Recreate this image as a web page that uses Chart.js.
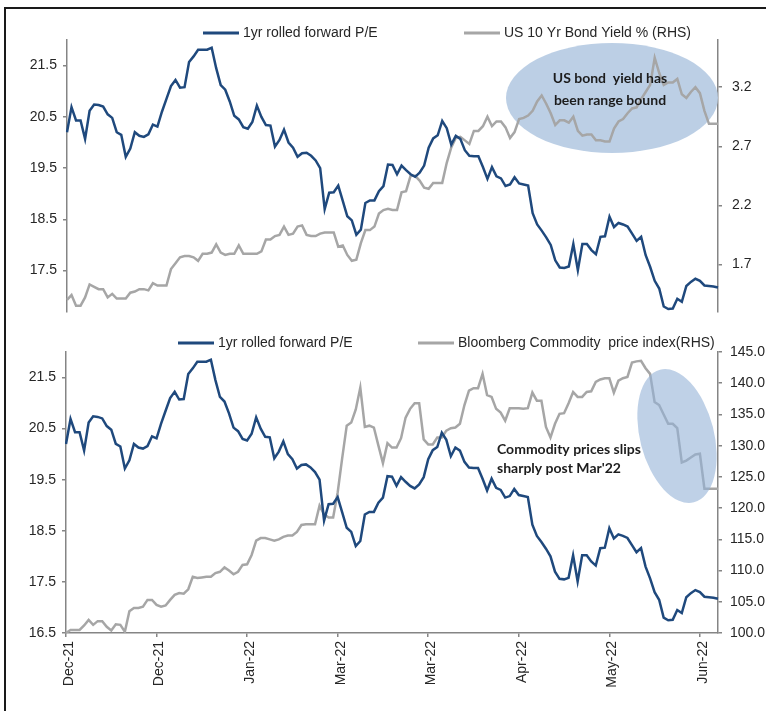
<!DOCTYPE html>
<html>
<head>
<meta charset="utf-8">
<script src="https://cdn.jsdelivr.net/npm/chart.js@4.4.1/dist/chart.umd.min.js"></script>
<style>
  html, body { margin: 0; padding: 0; background: #fff; overflow: hidden; }
  #wrap { position: relative; width: 766px; height: 711px; overflow: hidden; }
  #frame { position: absolute; left: 4px; top: 7px; width: 800px; height: 800px;
           border-left: 2px solid #1a1a1a; border-top: 2px solid #1a1a1a; }
  canvas { position: absolute; left: 0; }
  #topChart { top: 0; }
  #bottomChart { top: 320px; }
</style>
</head>
<body>
<div id="wrap">
  <div id="frame"></div>
  <canvas id="topChart" width="766" height="330"></canvas>
  <canvas id="bottomChart" width="766" height="391"></canvas>
</div>
<script>
// one value per trading day, Dec-21 to Jun-22
var peForward = [
  20.20, 20.69, 20.43, 20.43, 20.07, 20.62, 20.74, 20.73, 20.70, 20.55,
  20.48, 20.20, 20.15, 19.72, 19.88, 20.20, 20.13, 20.11, 20.16, 20.35,
  20.31, 20.60, 20.85, 21.10, 21.22, 21.07, 21.08, 21.57, 21.68, 21.81,
  21.81, 21.81, 21.85, 21.45, 21.12, 21.03, 20.80, 20.52, 20.45, 20.30,
  20.27, 20.40, 20.72, 20.50, 20.34, 20.33, 19.92, 20.05, 20.25, 20.00,
  19.90, 19.72, 19.79, 19.80, 19.74, 19.65, 19.50, 18.70, 19.02, 19.03,
  19.16, 18.86, 18.56, 18.48, 18.20, 18.30, 18.82, 18.87, 18.87, 19.05,
  19.15, 19.57, 19.56, 19.38, 19.55, 19.46, 19.38, 19.33, 19.41, 19.55,
  19.90, 20.08, 20.14, 20.42, 20.28, 19.96, 20.13, 20.07, 19.85, 19.74,
  19.73, 19.73, 19.52, 19.29, 19.52, 19.34, 19.30, 19.15, 19.18, 19.32,
  19.20, 19.18, 19.16, 18.62, 18.40, 18.28, 18.15, 18.00, 17.70, 17.56,
  17.55, 17.58, 18.02, 17.51, 18.02, 18.02, 17.90, 17.82, 18.16, 18.17,
  18.55, 18.35, 18.43, 18.40, 18.36, 18.22, 18.08, 18.16, 17.80, 17.57,
  17.30, 17.15, 16.80, 16.75, 16.76, 16.95, 16.89, 17.20, 17.28, 17.34,
  17.30, 17.21, 17.20, 17.19, 17.17
];

var bondYield = [
  1.40, 1.44, 1.35, 1.35, 1.42, 1.53, 1.51, 1.49, 1.49, 1.42,
  1.45, 1.41, 1.41, 1.41, 1.46, 1.47, 1.49, 1.49, 1.48, 1.54,
  1.52, 1.52, 1.52, 1.66, 1.71, 1.76, 1.77, 1.77, 1.76, 1.73,
  1.79, 1.79, 1.80, 1.87, 1.80, 1.78, 1.79, 1.79, 1.86, 1.79,
  1.79, 1.79, 1.79, 1.81, 1.91, 1.91, 1.94, 1.95, 2.02, 1.95,
  1.96, 2.02, 2.03, 1.95, 1.94, 1.94, 1.96, 1.97, 1.97, 1.97,
  1.85, 1.86, 1.78, 1.73, 1.74, 1.88, 1.99, 1.99, 2.02, 2.13,
  2.16, 2.17, 2.16, 2.16, 2.31, 2.32, 2.45, 2.45, 2.41, 2.35,
  2.34, 2.39, 2.39, 2.39, 2.56, 2.69, 2.77, 2.78, 2.75, 2.72,
  2.83, 2.83, 2.87, 2.95, 2.87, 2.91, 2.91, 2.86, 2.77, 2.82,
  2.93, 2.94, 2.96, 3.00, 3.08, 3.13, 3.06, 2.98, 2.88, 2.92,
  2.92, 2.90, 2.95, 2.83, 2.79, 2.80, 2.80, 2.75, 2.75, 2.74,
  2.74, 2.85, 2.91, 2.93, 2.98, 3.02, 3.03, 3.10, 3.16, 3.22,
  3.45, 3.32, 3.22, 3.24, 3.24, 3.27, 3.14, 3.11, 3.16, 3.20,
  3.15, 3.00, 2.89, 2.89, 2.89
];

var commodityIndex = [
  100.0, 100.5, 100.5, 100.5, 101.2, 102.1, 101.3, 101.9, 101.9, 101.0,
  100.4, 101.4, 101.3, 100.2, 103.5, 104.0, 104.0, 104.2, 105.3, 105.3,
  104.5, 104.2, 104.4, 105.3, 106.1, 106.4, 106.3, 107.0, 109.0, 108.8,
  108.9, 109.0, 109.0, 109.6, 109.8, 110.5, 110.0, 109.4, 109.8, 110.9,
  111.0, 112.5, 114.8, 115.2, 115.2, 115.0, 114.8, 115.0, 115.4, 115.6,
  115.6, 116.2, 117.3, 117.4, 117.4, 117.4, 120.4, 119.0, 118.5, 118.5,
  122.5, 128.0, 133.2, 133.7, 135.8, 139.3, 133.0, 133.2, 132.9, 130.0,
  127.2, 130.4, 129.7, 129.7, 131.2, 134.5, 135.9, 136.8, 136.8, 131.0,
  130.2, 130.2, 131.3, 131.3, 132.4, 132.8, 132.9, 133.5, 136.5, 138.8,
  139.2, 139.2, 141.5, 138.1, 137.8, 135.9, 135.3, 134.0, 136.0, 136.0,
  136.0, 135.9, 136.0, 138.5, 137.2, 137.2, 133.0, 131.3, 133.5, 135.1,
  135.2, 136.8, 138.6, 137.8, 137.8, 138.6, 138.7, 140.2, 140.6, 140.8,
  140.8, 138.5, 140.4, 140.8, 141.0, 143.3, 143.5, 143.6, 142.4, 141.5,
  137.0, 136.5, 135.0, 133.5, 133.5, 132.8, 127.3, 127.6, 128.1, 128.6,
  128.7, 123.1, 123.1, 123.1, 123.1
];

var xTickLabels = ['Dec-21', 'Dec-21', 'Jan-22', 'Mar-22', 'Mar-22', 'Apr-22', 'May-22', 'Jun-22'];
var tickStep = 20; // one label every 20 trading days

var peTicksTop = [17.5, 18.5, 19.5, 20.5, 21.5];
var peTicksBottom = [16.5, 17.5, 18.5, 19.5, 20.5, 21.5];
var bondTicks = [1.7, 2.2, 2.7, 3.2];
var commodityTicks = [100, 105, 110, 115, 120, 125, 130, 135, 140, 145];

var categories = peForward.map(function(v, i) { return i; });

var FONT = "'Liberation Sans', Arial, sans-serif";
var BLUE = '#1F497D';
var GREY = '#A6A6A6';
var AXIS = '#858585';
var TEXT = '#262626';

// legend drawn as line samples like the original
function lineLegend(xs, y) {
  return {
    id: 'lineLegend',
    afterDraw: function(chart) {
      var ctx = chart.ctx;
      ctx.save();
      ctx.font = '14px ' + FONT;
      ctx.textBaseline = 'middle';
      chart.data.datasets.forEach(function(ds, i) {
        ctx.strokeStyle = ds.borderColor;
        ctx.lineWidth = 3;
        ctx.beginPath();
        ctx.moveTo(xs[i], y);
        ctx.lineTo(xs[i] + 36, y);
        ctx.stroke();
        ctx.fillStyle = TEXT;
        ctx.fillText(ds.label, xs[i] + 40, y);
      });
      ctx.restore();
    }
  };
}

// shaded ellipse with a note
function callout(opt) {
  function ellipse(ctx) {
    ctx.save();
    ctx.fillStyle = opt.fill;
    ctx.beginPath();
    ctx.ellipse(opt.cx, opt.cy, opt.rx, opt.ry, opt.rot, 0, Math.PI * 2);
    ctx.fill();
    ctx.restore();
  }
  return {
    id: 'callout',
    beforeDatasetsDraw: function(chart) {
      if (!opt.overLines) ellipse(chart.ctx);
    },
    afterDatasetsDraw: function(chart) {
      var ctx = chart.ctx;
      if (opt.overLines) ellipse(ctx);
      ctx.save();
      ctx.font = 'bold 14px Lato, ' + FONT;
      ctx.fillStyle = '#1c1c1c';
      ctx.textAlign = opt.align;
      ctx.textBaseline = 'middle';
      opt.lines.forEach(function(t, i) {
        ctx.fillText(t, opt.tx, opt.ty + i * opt.lh);
      });
      ctx.restore();
    }
  };
}

function yAxis(pos, min, max, ticks, width, digits, pad) {
  return {
    position: pos,
    min: min,
    max: max,
    afterBuildTicks: function(s) {
      s.ticks = ticks.map(function(v) { return { value: v }; });
    },
    afterFit: function(s) { s.width = width; },
    grid: { drawOnChartArea: false, tickLength: 4, color: AXIS, lineWidth: 1.5 },
    border: { color: AXIS, width: 1.5 },
    ticks: {
      padding: pad,
      color: TEXT,
      font: { family: FONT, size: 14 },
      callback: function(v) { return Number(v).toFixed(digits); }
    }
  };
}

function lineSet(label, data, color, axis) {
  return {
    label: label,
    data: data,
    yAxisID: axis,
    borderColor: color,
    borderWidth: 2.5,
    pointRadius: 0,
    tension: 0,
    fill: false
  };
}

window.onload = function() {
  Chart.defaults.font.family = FONT;

  // top: P/E vs US 10 yr yield
  new Chart(document.getElementById('topChart').getContext('2d'), {
    type: 'line',
    data: {
      labels: categories,
      datasets: [
        lineSet('1yr rolled forward P/E', peForward, BLUE, 'y'),
        lineSet('US 10 Yr Bond Yield % (RHS)', bondYield, GREY, 'y1')
      ]
    },
    options: {
      responsive: false,
      animation: false,
      events: [],
      layout: { padding: { top: 40, bottom: 12, left: 0, right: 0 } },
      plugins: { legend: { display: false }, tooltip: { enabled: false } },
      scales: {
        x: { type: 'category', offset: false, display: false },
        y: yAxis('left', 16.7, 22.0, peTicksTop, 67, 1, 6),
        y1: yAxis('right', 1.3, 3.6, bondTicks, 48, 1, 10)
      }
    },
    plugins: [
      lineLegend([203, 464], 33),
      callout({
        cx: 612, cy: 98, rx: 106, ry: 55, rot: 0,
        fill: 'rgba(184, 204, 228, 0.95)', overLines: false,
        lines: ['US bond  yield has', 'been range bound'],
        tx: 610, ty: 78, lh: 22, align: 'center'
      })
    ]
  });

  // bottom: P/E vs Bloomberg commodity index
  new Chart(document.getElementById('bottomChart').getContext('2d'), {
    type: 'line',
    data: {
      labels: categories,
      datasets: [
        lineSet('1yr rolled forward P/E', peForward, BLUE, 'y'),
        lineSet('Bloomberg Commodity  price index(RHS)', commodityIndex, GREY, 'y1')
      ]
    },
    options: {
      responsive: false,
      animation: false,
      events: [],
      layout: { padding: { top: 32, bottom: 0, left: 0, right: 0 } },
      plugins: { legend: { display: false }, tooltip: { enabled: false } },
      scales: {
        x: {
          type: 'category',
          offset: false,
          afterFit: function(s) { s.height = 78; },
          grid: { drawOnChartArea: false, tickLength: 4, color: AXIS, lineWidth: 1.5 },
          border: { color: AXIS, width: 1.5 },
          ticks: {
            autoSkip: false,
            minRotation: 90,
            maxRotation: 90,
            padding: 4,
            labelOffset: 3,
            color: TEXT,
            font: { family: FONT, size: 14 },
            callback: function(v, i) {
              return i % tickStep === 0 ? xTickLabels[i / tickStep] : null;
            }
          }
        },
        y: yAxis('left', 16.5, 22.0, peTicksBottom, 66, 1, 6),
        y1: yAxis('right', 100, 145, commodityTicks, 48, 1, 8)
      }
    },
    plugins: [
      lineLegend([178, 418], 23),
      callout({
        cx: 677, cy: 116, rx: 37, ry: 68.5, rot: -0.25,
        fill: 'rgba(149, 179, 215, 0.6)', overLines: true,
        lines: ['Commodity prices slips', "sharply post Mar'22"],
        tx: 497, ty: 129, lh: 19, align: 'left'
      })
    ]
  });
};
</script>
</body>
</html>
